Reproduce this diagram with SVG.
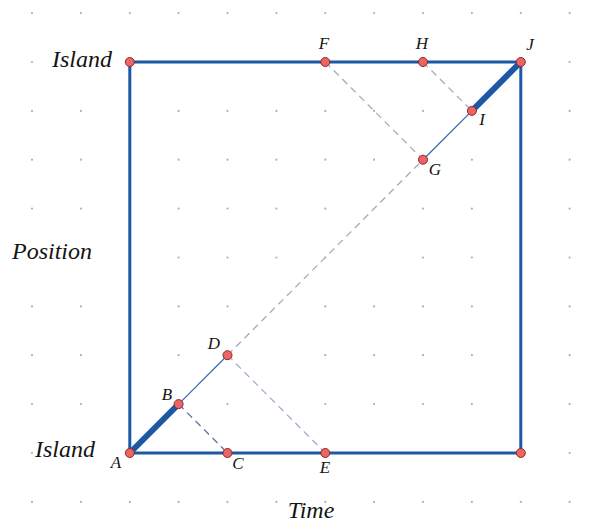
<svg xmlns="http://www.w3.org/2000/svg" width="613" height="525" viewBox="0 0 613 525">
<style>
.grid circle{fill:#b0b0b0}
.frame{stroke:#1d58a4;stroke-width:3;fill:none}
.thick{stroke:#1d58a4;stroke-width:6;stroke-linecap:round}
.thin{stroke:#3a6cb0;stroke-width:1.3}
.dash{stroke:#a4acc6;stroke-width:1.3;stroke-dasharray:7 5}
.dash2{stroke:#5e72a8;stroke-width:1.3;stroke-dasharray:7 5}
.pt{fill:#ec6464;stroke:#8c2a2a;stroke-width:1}
.big{font-family:"Liberation Serif",serif;font-style:italic;font-size:24px;fill:#141414}
.lbl{font-family:"Liberation Serif",serif;font-style:italic;font-size:17px;fill:#141414;text-anchor:middle}
</style>
<rect width="613" height="525" fill="#ffffff"/>
<g class="grid" id="grid">
<circle cx="32" cy="13.1" r="1.1"/><circle cx="80.9" cy="13.1" r="1.1"/><circle cx="129.8" cy="13.1" r="1.1"/><circle cx="178.6" cy="13.1" r="1.1"/><circle cx="227.5" cy="13.1" r="1.1"/><circle cx="276.4" cy="13.1" r="1.1"/><circle cx="325.3" cy="13.1" r="1.1"/><circle cx="374.1" cy="13.1" r="1.1"/><circle cx="423" cy="13.1" r="1.1"/><circle cx="471.9" cy="13.1" r="1.1"/><circle cx="520.8" cy="13.1" r="1.1"/><circle cx="569.6" cy="13.1" r="1.1"/>
<circle cx="32" cy="62" r="1.1"/><circle cx="569.6" cy="62" r="1.1"/>
<circle cx="32" cy="110.9" r="1.1"/><circle cx="80.9" cy="110.9" r="1.1"/><circle cx="178.6" cy="110.9" r="1.1"/><circle cx="227.5" cy="110.9" r="1.1"/><circle cx="276.4" cy="110.9" r="1.1"/><circle cx="325.3" cy="110.9" r="1.1"/><circle cx="374.1" cy="110.9" r="1.1"/><circle cx="423" cy="110.9" r="1.1"/><circle cx="569.6" cy="110.9" r="1.1"/>
<circle cx="32" cy="159.7" r="1.1"/><circle cx="80.9" cy="159.7" r="1.1"/><circle cx="178.6" cy="159.7" r="1.1"/><circle cx="227.5" cy="159.7" r="1.1"/><circle cx="276.4" cy="159.7" r="1.1"/><circle cx="325.3" cy="159.7" r="1.1"/><circle cx="374.1" cy="159.7" r="1.1"/><circle cx="471.9" cy="159.7" r="1.1"/><circle cx="569.6" cy="159.7" r="1.1"/>
<circle cx="32" cy="208.6" r="1.1"/><circle cx="80.9" cy="208.6" r="1.1"/><circle cx="178.6" cy="208.6" r="1.1"/><circle cx="227.5" cy="208.6" r="1.1"/><circle cx="276.4" cy="208.6" r="1.1"/><circle cx="325.3" cy="208.6" r="1.1"/><circle cx="423" cy="208.6" r="1.1"/><circle cx="471.9" cy="208.6" r="1.1"/><circle cx="569.6" cy="208.6" r="1.1"/>
<circle cx="178.6" cy="257.5" r="1.1"/><circle cx="227.5" cy="257.5" r="1.1"/><circle cx="276.4" cy="257.5" r="1.1"/><circle cx="325.3" cy="257.5" r="1.1"/><circle cx="423" cy="257.5" r="1.1"/><circle cx="471.9" cy="257.5" r="1.1"/><circle cx="569.6" cy="257.5" r="1.1"/>
<circle cx="32" cy="306.4" r="1.1"/><circle cx="80.9" cy="306.4" r="1.1"/><circle cx="178.6" cy="306.4" r="1.1"/><circle cx="227.5" cy="306.4" r="1.1"/><circle cx="325.3" cy="306.4" r="1.1"/><circle cx="374.1" cy="306.4" r="1.1"/><circle cx="423" cy="306.4" r="1.1"/><circle cx="471.9" cy="306.4" r="1.1"/><circle cx="569.6" cy="306.4" r="1.1"/>
<circle cx="32" cy="355.2" r="1.1"/><circle cx="80.9" cy="355.2" r="1.1"/><circle cx="178.6" cy="355.2" r="1.1"/><circle cx="325.3" cy="355.2" r="1.1"/><circle cx="374.1" cy="355.2" r="1.1"/><circle cx="423" cy="355.2" r="1.1"/><circle cx="471.9" cy="355.2" r="1.1"/><circle cx="569.6" cy="355.2" r="1.1"/>
<circle cx="32" cy="404.1" r="1.1"/><circle cx="80.9" cy="404.1" r="1.1"/><circle cx="227.5" cy="404.1" r="1.1"/><circle cx="325.3" cy="404.1" r="1.1"/><circle cx="374.1" cy="404.1" r="1.1"/><circle cx="423" cy="404.1" r="1.1"/><circle cx="471.9" cy="404.1" r="1.1"/><circle cx="569.6" cy="404.1" r="1.1"/>
<circle cx="32" cy="453" r="1.1"/><circle cx="569.6" cy="453" r="1.1"/>
<circle cx="32" cy="501.9" r="1.1"/><circle cx="80.9" cy="501.9" r="1.1"/><circle cx="129.8" cy="501.9" r="1.1"/><circle cx="178.6" cy="501.9" r="1.1"/><circle cx="227.5" cy="501.9" r="1.1"/><circle cx="276.4" cy="501.9" r="1.1"/><circle cx="325.3" cy="501.9" r="1.1"/><circle cx="374.1" cy="501.9" r="1.1"/><circle cx="423" cy="501.9" r="1.1"/><circle cx="471.9" cy="501.9" r="1.1"/><circle cx="520.8" cy="501.9" r="1.1"/><circle cx="569.6" cy="501.9" r="1.1"/>
</g>
<g id="connectors">
<rect class="frame" x="129.8" y="62" width="391" height="391"/>
<line class="dash2" x1="178.6" y1="404.1" x2="227.5" y2="453"/>
<line class="dash" x1="227.5" y1="355.2" x2="325.3" y2="453"/>
<line class="dash" x1="325.3" y1="62" x2="423" y2="159.7"/>
<line class="dash" x1="423" y1="62" x2="471.9" y2="110.9"/>
<line class="dash" x1="227.5" y1="355.2" x2="423" y2="159.7"/>
<line class="thin" x1="178.6" y1="404.1" x2="227.5" y2="355.2"/>
<line class="thin" x1="423" y1="159.7" x2="471.9" y2="110.9"/>
<line class="thick" x1="129.8" y1="453" x2="178.6" y2="404.1"/>
<line class="thick" x1="471.9" y1="110.9" x2="520.8" y2="62"/>
</g>
<g id="A"><circle class="pt" cx="129.8" cy="453" r="4.5"/><text class="lbl" x="116" y="468">A</text></g>
<g id="B"><circle class="pt" cx="178.6" cy="404.1" r="4.5"/><text class="lbl" x="167" y="400">B</text></g>
<g id="C"><circle class="pt" cx="227.5" cy="453" r="4.5"/><text class="lbl" x="238" y="469">C</text></g>
<g id="D"><circle class="pt" cx="227.5" cy="355.2" r="4.5"/><text class="lbl" x="214" y="349">D</text></g>
<g id="E"><circle class="pt" cx="325.3" cy="453" r="4.5"/><text class="lbl" x="325" y="473">E</text></g>
<g id="F"><circle class="pt" cx="325.3" cy="62" r="4.5"/><text class="lbl" x="324" y="49">F</text></g>
<g id="G"><circle class="pt" cx="423" cy="159.7" r="4.5"/><text class="lbl" x="435" y="175">G</text></g>
<g id="H"><circle class="pt" cx="423" cy="62" r="4.5"/><text class="lbl" x="422" y="49">H</text></g>
<g id="I"><circle class="pt" cx="471.9" cy="110.9" r="4.5"/><text class="lbl" x="482" y="125">I</text></g>
<g id="J"><circle class="pt" cx="520.8" cy="62" r="4.5"/><text class="lbl" x="530" y="50">J</text></g>
<g id="topleft"><circle class="pt" cx="129.8" cy="62" r="4.5"/></g>
<g id="bottomright"><circle class="pt" cx="520.8" cy="453" r="4.5"/></g>
<g id="labels">
<text class="big" x="112" y="67" text-anchor="end" font-size="26">Island</text>
<text class="big" x="35" y="457" font-size="26">Island</text>
<text class="big" x="12" y="259" font-size="25">Position</text>
<text class="big" x="311" y="518" text-anchor="middle" font-size="23">Time</text>
</g>
</svg>
